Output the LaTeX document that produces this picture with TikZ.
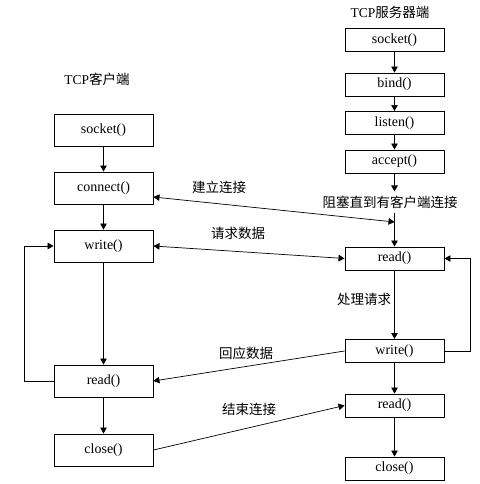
\documentclass[tikz,border=0pt]{standalone}
\usepackage{fontspec}
\setmainfont{Liberation Serif}
\newfontfamily\cjk{Noto Sans CJK SC}
\usetikzlibrary{arrows.meta}
\tikzset{
  fnbox/.style={draw, line width=0.9pt, minimum width=99pt, inner sep=0pt, font=\fontsize{14}{16}\selectfont},
  cbox/.style={fnbox, minimum height=32pt},
  sbox/.style={fnbox, minimum height=23pt},
  lbl/.style={font=\cjk\fontsize{13.5}{15}\selectfont, inner sep=1pt},
  conn/.style={line width=0.7pt, -{Triangle[length=6pt,width=6.5pt]}},
  dconn/.style={line width=0.7pt, {Triangle[length=6pt,width=6.5pt]}-{Triangle[length=6pt,width=6.5pt]}},
  plain/.style={line width=0.7pt}
}
\begin{document}
\begin{tikzpicture}[x=1pt,y=-1pt]
\useasboundingbox (0,0) rectangle (479,484);
% titles
\node[lbl] (tc) at (97,79) {\fontspec{Liberation Serif}TCP\cjk 客户端};
\node[lbl] (ts) at (390,12) {\fontspec{Liberation Serif}TCP\cjk 服务器端};
% client column
\node[cbox] (csock) at (103.5,130) {socket()};
\node[cbox] (cconn) at (103.5,188) {connect()};
\node[cbox] (cwrite) at (103.5,246) {write()};
\node[cbox] (cread) at (103.5,381) {read()};
\node[cbox] (cclose) at (103.5,450) {close()};
% server column
\node[sbox] (ssock) at (394.5,40) {socket()};
\node[sbox] (sbind) at (394.5,84.5) {bind()};
\node[sbox] (slisten) at (394.5,123) {listen()};
\node[sbox] (saccept) at (394.5,161.5) {accept()};
\node[lbl, inner sep=4pt] (block) at (390,202) {阻塞直到有客户端连接};
\node[sbox] (sread) at (394.5,258.5) {read()};
\node[sbox] (swrite) at (394.5,351) {write()};
\node[sbox] (sread2) at (394.5,405.5) {read()};
\node[sbox] (sclose) at (394.5,468.5) {close()};
% labels
\node[lbl] (l1) at (219,187) {建立连接};
\node[lbl] (l2) at (238,233) {请求数据};
\node[lbl] (l3) at (246,353) {回应数据};
\node[lbl] (l4) at (249,409) {结束连接};
\node[lbl] (l5) at (364,299) {处理请求};
% client vertical
\draw[conn] (csock) -- (cconn);
\draw[conn] (cconn) -- (cwrite);
\draw[conn] (cwrite) -- (cread);
\draw[conn] (cread) -- (cclose);
\draw[conn] (cread.west) -- (24,381) |- (cwrite.west);
% server vertical
\draw[conn] (ssock) -- (sbind);
\draw[conn] (sbind) -- (slisten);
\draw[conn] (slisten) -- (saccept);
\draw[conn] (saccept.south) -- (saccept.south |- block.north);
\draw[conn] (saccept.south |- block.south) -- (sread.north);
\draw[conn] (sread) -- (swrite);
\draw[conn] (swrite) -- (sread2);
\draw[conn] (sread2) -- (sclose);
\draw[conn] (swrite.east) -- (470,351) |- (sread.east);
% cross connectors
\coordinate (c1) at (394.5,222);
\draw[dconn] ([yshift=-9pt]cconn.east) -- (c1);
\draw[dconn] (cwrite.east) -- (sread.west);
\draw[conn] (swrite.west) -- (cread.east);
\draw[conn] (cclose.east) -- (sread2.west);
\end{tikzpicture}
\end{document}
